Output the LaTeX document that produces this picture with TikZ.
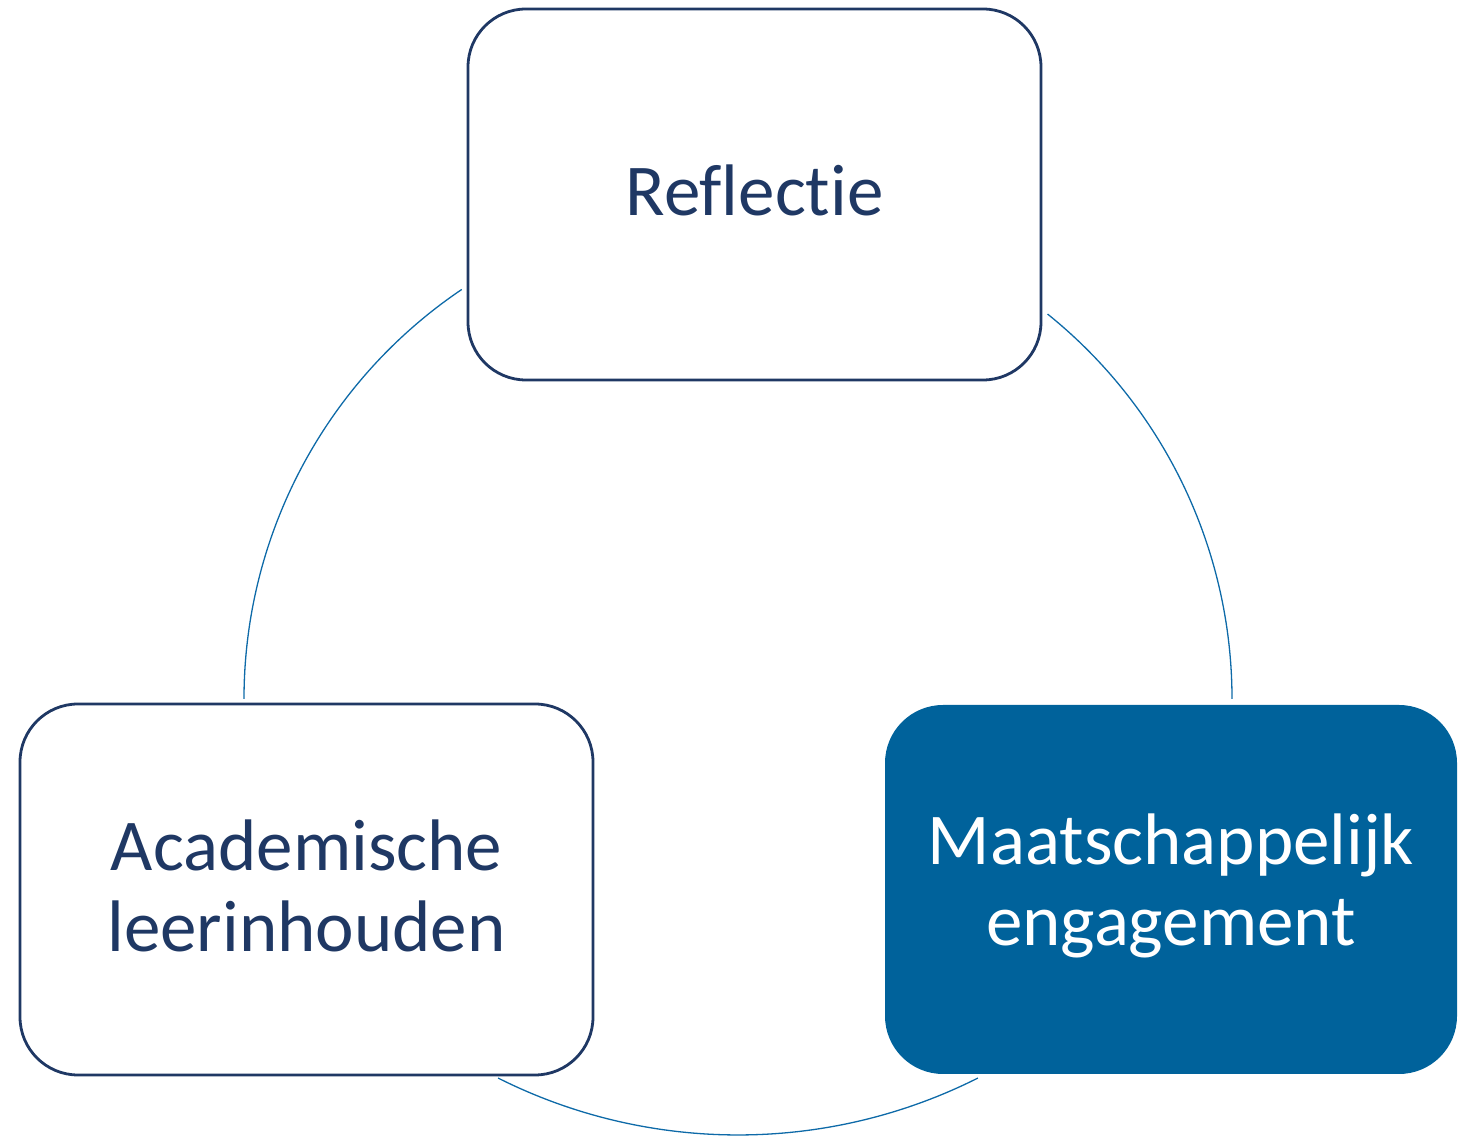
\documentclass[tikz,border=0pt]{standalone}
\usepackage{fontspec}
\setmainfont{Carlito}[Ligatures={NoCommon,NoRare,NoContextual}]
\usetikzlibrary{calc}
\definecolor{navy}{RGB}{31,56,100}
\definecolor{arcblue}{RGB}{14,106,168}
\definecolor{fillblue}{RGB}{0,98,155}
\begin{document}
\begin{tikzpicture}[x=1pt,y=1pt,
  box/.style={rectangle, rounded corners=58pt, minimum width=573pt, minimum height=371pt,
    align=center, inner sep=0pt, font=\fontsize{73}{81}\selectfont},
  openbox/.style={box, draw=navy, line width=2.8pt, fill=white, text=navy},
  solidbox/.style={box, fill=fillblue, text=white},
  cyc/.style={draw=arcblue, line width=1.3pt}]
\useasboundingbox (0,0) rectangle (1468,1138);
\node[openbox] (refl) at (754.5,943.5) {};
\node[text=navy, font=\fontsize{73}{81}\selectfont] (refltxt) at (754.5,947.5) {Reflectie};
\node[openbox] (acad) at (306.5,248.5) {};
\node[text=navy, align=center, font=\fontsize{73}{81}\selectfont] (acadtxt) at (306.5,252.5) {Academische\\leerinhouden};
\node[solidbox, minimum width=572pt, minimum height=369pt] (maat) at (1171,248.5) {};
\node[text=white, align=center, font=\fontsize{73}{81}\selectfont] (maattxt) at (1171,252.5) {Maatschappelijk\\engagement};
% circle centre (738,439), r 494
\coordinate (c1) at ($(738,439)+(124:494)$);
\coordinate (c2) at ($(738,439)+(51.2:494)$);
\coordinate (c3) at ($(738,537)+(296.7:534)$);
\path[cyc] (c1) arc[start angle=124, end angle=180, radius=494];
\path[cyc] (c2) arc[start angle=51.2, end angle=0, radius=494];
\path[cyc] (c3) arc[start angle=296.7, end angle=243.3, radius=534];
\end{tikzpicture}
\end{document}
